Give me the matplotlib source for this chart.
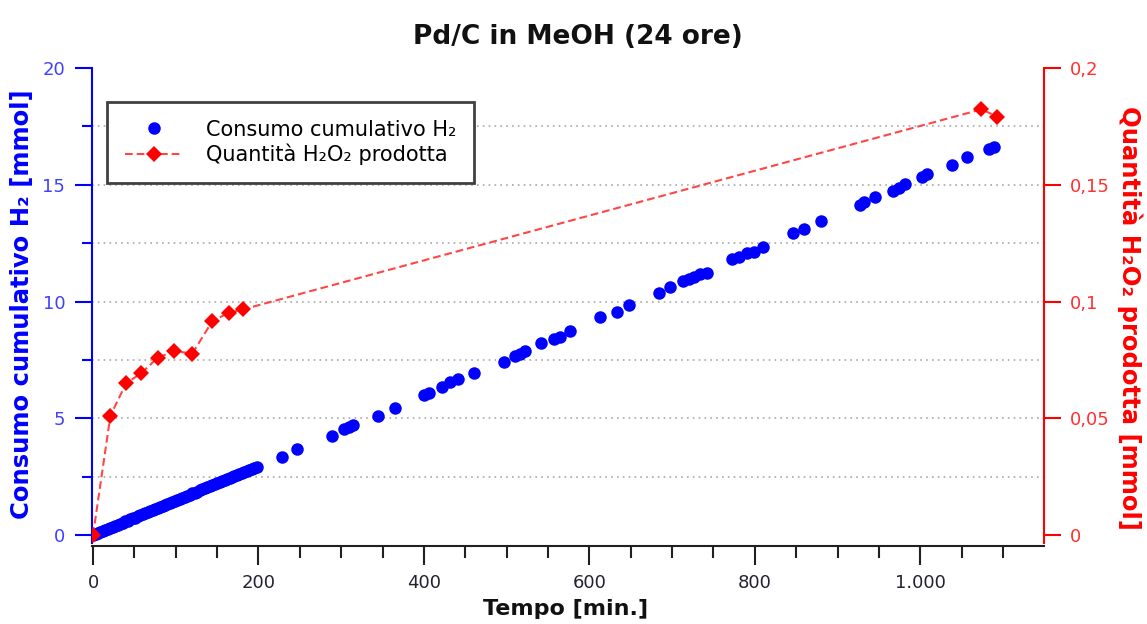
import numpy as np
import matplotlib
matplotlib.use('Agg')
import matplotlib.pyplot as plt
from matplotlib.ticker import FuncFormatter, MultipleLocator, NullLocator


# consumo cumulativo H2 - parte fitta (primi ~200 min)
tempo_h2_fitto = [0, 3, 6, 9, 12, 15, 18, 21, 24, 27, 30, 33, 36, 39, 42, 45, 48, 51, 54, 57,
                  60, 63, 66, 69, 72, 75, 78, 81, 84, 87, 90, 93, 96, 99, 102, 105, 108, 111,
                  114, 117, 120, 123, 126, 129, 132, 135, 138, 141, 144, 147, 150, 153, 156,
                  159, 162, 165, 168, 171, 174, 177, 180, 183, 186, 189, 192, 195, 198]
h2_fitto = [0.00, 0.04, 0.09, 0.13, 0.18, 0.22, 0.27, 0.31, 0.36, 0.40, 0.44, 0.49, 0.53, 0.58,
            0.62, 0.67, 0.71, 0.75, 0.80, 0.84, 0.89, 0.93, 0.98, 1.02, 1.07, 1.11, 1.15, 1.20,
            1.24, 1.29, 1.33, 1.38, 1.42, 1.47, 1.51, 1.55, 1.60, 1.64, 1.69, 1.73, 1.78, 1.82,
            1.86, 1.91, 1.95, 2.00, 2.04, 2.09, 2.13, 2.18, 2.22, 2.26, 2.31, 2.35, 2.40, 2.44,
            2.49, 2.53, 2.58, 2.62, 2.66, 2.71, 2.75, 2.80, 2.84, 2.89, 2.93]

# consumo cumulativo H2 - punti radi
tempo_h2_rado = [228, 247, 289, 303, 309, 314, 345, 365, 400, 406, 422, 432, 441, 461, 497, 510,
                 516, 522, 541, 557, 565, 577, 613, 633, 648, 684, 698, 713, 721, 726, 734, 742,
                 773, 781, 791, 799, 810, 846, 860, 880, 927, 932, 945, 967, 974, 982, 1002, 1008,
                 1038, 1057, 1083, 1089]
h2_rado = [3.33, 3.68, 4.25, 4.54, 4.64, 4.71, 5.11, 5.45, 6.00, 6.10, 6.35, 6.54, 6.67, 6.92,
           7.42, 7.65, 7.75, 7.86, 8.21, 8.38, 8.49, 8.74, 9.32, 9.56, 9.85, 10.35, 10.61, 10.89,
           10.98, 11.06, 11.18, 11.23, 11.82, 11.92, 12.06, 12.12, 12.32, 12.95, 13.10, 13.46,
           14.14, 14.28, 14.49, 14.75, 14.87, 15.02, 15.35, 15.45, 15.85, 16.17, 16.52, 16.63]

# quantita' H2O2 prodotta
tempo_h2o2 = [0, 21, 40, 58, 78, 98, 120, 144, 164, 181, 1074, 1093]
h2o2 = [0.0, 0.0511, 0.0650, 0.0692, 0.0759, 0.0788, 0.0777, 0.0915, 0.0952, 0.0966, 0.1823, 0.1792]

tempo_h2 = tempo_h2_fitto + tempo_h2_rado
h2 = h2_fitto + h2_rado

blu = '#0000ff'
rosso = '#ff0000'

plt.rcParams['font.family'] = 'DejaVu Sans'

fig = plt.figure(figsize=(11.47, 6.24), dpi=100)
ax = fig.add_axes([0.0798, 0.125, 0.830, 0.766])
ax2 = ax.twinx()

# serie
p1, = ax.plot(tempo_h2, h2, 'o', color=blu, markersize=9, markeredgewidth=0,
              label='Consumo cumulativo H₂')
p2, = ax2.plot(tempo_h2o2, h2o2, linestyle=(0, (3.7, 1.9)), color='#ff4545', linewidth=1.5,
               marker='D', markersize=8, markerfacecolor=rosso, markeredgewidth=0,
               label='Quantità H₂O₂ prodotta')

ax.set_xlim(-1.8, 1149)
ax.set_ylim(-0.47, 20)
ax2.set_ylim(-0.0047, 0.2)

# griglia orizzontale punteggiata
for g in np.arange(2.5, 20, 2.5):
    ax.axhline(g, color='#a8a8a8', linestyle=(0, (1, 2.5)), linewidth=1.2, zorder=0)

# spine
for a in (ax, ax2):
    a.spines['top'].set_visible(False)
ax.spines['right'].set_visible(False)
ax2.spines['left'].set_visible(False)
ax2.spines['bottom'].set_visible(False)
ax.spines['left'].set_color(blu)
ax.spines['left'].set_linewidth(1.5)
ax.spines['left'].set_bounds(-0.34, 20)
ax2.spines['right'].set_color(rosso)
ax2.spines['right'].set_linewidth(1.5)
ax2.spines['right'].set_bounds(-0.0034, 0.2)
ax.spines['bottom'].set_color('#202020')
ax.spines['bottom'].set_linewidth(1.5)

# tick
ax.xaxis.set_major_locator(MultipleLocator(200))
ax.xaxis.set_minor_locator(MultipleLocator(50))
ax.yaxis.set_major_locator(MultipleLocator(5))
ax.yaxis.set_minor_locator(MultipleLocator(2.5))
ax2.yaxis.set_major_locator(MultipleLocator(0.05))
ax2.yaxis.set_minor_locator(NullLocator())

def migliaia(v, pos):
    return f'{v:,.0f}'.replace(',', '.')

def virgola(v, pos):
    s = f'{v:.2f}'.rstrip('0').rstrip('.')
    return s.replace('.', ',')

ax.xaxis.set_major_formatter(FuncFormatter(migliaia))
ax2.yaxis.set_major_formatter(FuncFormatter(virgola))

ax.tick_params(axis='x', which='major', length=14, width=1.5, color='#202020',
               labelsize=13, labelcolor='#222233', pad=6)
ax.tick_params(axis='x', which='minor', length=8.5, width=1.5, color='#202020')
ax.tick_params(axis='y', which='major', length=12, width=1.5, color=blu,
               labelsize=13, labelcolor='#4040ff', pad=7)
ax.tick_params(axis='y', which='minor', length=7, width=1.5, color=blu)
ax2.tick_params(axis='y', which='major', length=12, width=1.5, color=rosso,
                labelsize=13, labelcolor='#ff3030', pad=7)

# etichette
ax.set_xlabel('Tempo [min.]', fontsize=16, fontweight='bold', color='#111111')
ax.xaxis.set_label_coords(0.498, -0.11)
ax.set_ylabel('Consumo cumulativo H₂ [mmol]', fontsize=17.5, fontweight='bold', color=blu,
              va='center')
ax.yaxis.set_label_coords(-0.073, 0.506)
ax2.set_ylabel('Quantità H₂O₂ prodotta [mmol]', fontsize=17.5, fontweight='bold', color=rosso,
               rotation=270, va='center')
ax2.yaxis.set_label_coords(1.091, 0.478)

fig.text(0.504, 1 - 37 / 624, 'Pd/C in MeOH (24 ore)', fontsize=19, fontweight='bold',
         ha='center', va='center', color='#111111')

leg = ax2.legend([p1, p2], [p1.get_label(), p2.get_label()], loc='upper left',
                 bbox_to_anchor=(107 / 1147, 1 - 102 / 624), bbox_transform=fig.transFigure,
                 fontsize=15, frameon=True, fancybox=False, framealpha=1,
                 borderpad=0.85, handlelength=2.8, handletextpad=1.1, labelspacing=0.2,
                 borderaxespad=0)
leg.get_frame().set_edgecolor('#404040')
leg.get_frame().set_linewidth(2)

fig.savefig('out.png', dpi=100)
